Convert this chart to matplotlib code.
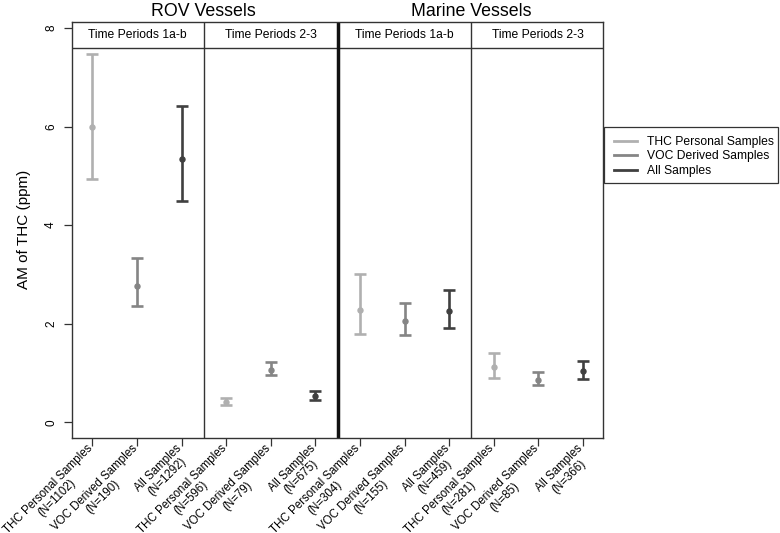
import matplotlib
matplotlib.use("Agg")
import matplotlib.pyplot as plt
from matplotlib.lines import Line2D
from matplotlib.patches import Rectangle
import matplotlib.transforms as mtransforms

plt.rcParams['font.family'] = ['Liberation Sans', 'DejaVu Sans']

groups = ["ROV Vessels", "Marine Vessels"]
periods = ["Time Periods 1a-b", "Time Periods 2-3"]
series = ["THC Personal Samples", "VOC Derived Samples", "All Samples"]
colors = ["#b0b0b0", "#858585", "#404040"]

# order: ROV 1a-b, ROV 2-3, Marine 1a-b, Marine 2-3 ; within each: THC, VOC, All
means = [6.00, 2.77, 5.35, 0.42, 1.07, 0.54, 2.27, 2.06, 2.25, 1.12, 0.87, 1.04]
lower = [4.93, 2.37, 4.49, 0.36, 0.96, 0.46, 1.80, 1.78, 1.91, 0.90, 0.76, 0.89]
upper = [7.48, 3.33, 6.42, 0.50, 1.23, 0.64, 3.00, 2.42, 2.68, 1.41, 1.02, 1.24]
ns = [1102, 190, 1292, 596, 79, 675, 304, 155, 459, 281, 85, 366]

fig = plt.figure(figsize=(7.8, 5.33), dpi=100)
W, H = 780, 533
left, right, top, bottom = 72.3, 603, 22, 437.7
ax = fig.add_axes([left / W, 1 - bottom / H, (right - left) / W, (bottom - top) / H])

frame = "#333333"
xs = list(range(12))
for i in range(12):
    c = colors[i % 3]
    ax.errorbar(xs[i], means[i], yerr=[[means[i] - lower[i]], [upper[i] - means[i]]],
                fmt='o', color=c, ecolor=c, elinewidth=1.9, capsize=4.5, capthick=1.9,
                markersize=3.6, zorder=3)

ax.set_xlim(-0.45, 11.45)
ax.set_ylim(-0.31, 8.12)
strip_y = 7.6
ax.axhline(strip_y, color=frame, lw=1.0)
for b in [2.5, 8.5]:
    ax.axvline(b, color=frame, lw=1.0)
ax.axvline(5.5, color="#111111", lw=2.5)

for k, p in enumerate(periods * 2):
    ax.text(1 + 3 * k, (strip_y + 8.12) / 2, p, ha='center', va='center', fontsize=8.7)

tr = mtransforms.blended_transform_factory(ax.transData, fig.transFigure)
for g, cx in zip(groups, [2.5, 8.5]):
    ax.text(cx, 1 - 15.5 / H, g, transform=tr, ha='center', va='baseline', fontsize=12.8)

ax.set_yticks([0, 2, 4, 6, 8])
ax.set_yticklabels(["0", "2", "4", "6", "8"], rotation=90, va='center', fontsize=8.5)
ax.tick_params(axis='y', length=6, color=frame, width=0.9, pad=5)
ax.set_xticks(xs)
ax.set_xticklabels([])
ax.tick_params(axis='x', length=6, color=frame, width=0.9)

labels = [f"{series[i % 3]}\n(N={ns[i]})" for i in range(12)]
xl_tr = (mtransforms.blended_transform_factory(ax.transData, ax.transAxes)
         + mtransforms.ScaledTranslation(-6 / 100, -4.6 / 100, fig.dpi_scale_trans))
for x, lab in zip(xs, labels):
    ax.text(x, 0, lab, transform=xl_tr, rotation=45, ha='right', va='top',
            rotation_mode='anchor', fontsize=8.3, multialignment='center',
            linespacing=1.1, clip_on=False)

for s in ax.spines.values():
    s.set_color(frame)
    s.set_linewidth(1.0)

ax.set_ylabel("AM of THC (ppm)", fontsize=11, labelpad=10)

# legend with manual frame
fig.add_artist(Rectangle((604 / W, 1 - 183 / H), (778 - 604) / W, (183 - 127) / H,
                         transform=fig.transFigure, fill=False, edgecolor=frame, lw=0.9))
handles = [Line2D([0], [0], color=c, lw=2) for c in colors]
leg = fig.legend(handles, series, loc='upper left', bbox_to_anchor=(614 / W, 1 - 136 / H),
                 fontsize=8.7, frameon=False, handlelength=1.9, handletextpad=0.8,
                 borderaxespad=0, borderpad=0, labelspacing=0.2)

fig.savefig("out.png", dpi=100)
